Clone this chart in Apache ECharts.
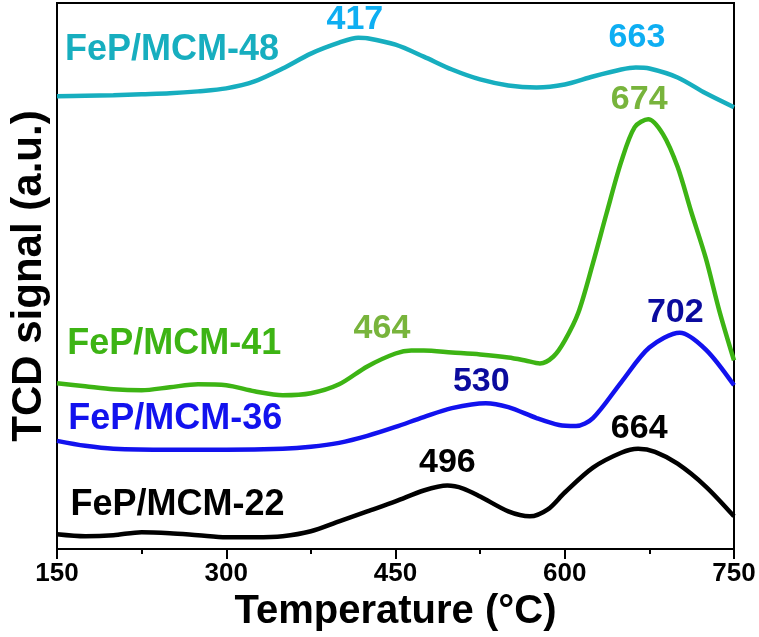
<!DOCTYPE html>
<html>
<head>
<meta charset="utf-8">
<script src="https://cdn.jsdelivr.net/npm/echarts@6/dist/echarts.min.js"></script>
<style>html,body{margin:0;padding:0;background:#fff}#c{width:759px;height:637px}</style>
</head>
<body>
<div id="c"></div>
<script>
// ---- data (x: temperature °C, y: TCD signal, arbitrary units with vertical offsets) ----
const xTicks = [150, 300, 450, 600, 750];

const mcm48T = [150, 175, 200, 225, 250, 275, 300, 325, 350, 375, 400, 417, 425, 450, 475, 500, 525, 550, 575, 600, 625, 650, 663, 675, 700, 725, 750];
const mcm48S = [456, 456.5, 457, 458, 459, 461, 464, 471, 484, 499, 510, 515, 514.5, 508, 496, 483, 473, 467, 465, 468, 476, 483, 485, 484, 475, 459, 445];

const mcm41T = [150, 175, 200, 225, 250, 275, 300, 325, 350, 375, 400, 425, 450, 464, 475, 500, 525, 550, 565, 578, 590, 600, 612, 625, 637, 650, 662, 674, 687, 700, 712, 725, 737, 750];
const mcm41S = [167, 164, 161, 160, 163, 166, 165, 159, 155, 157, 166, 184, 197, 200, 200, 198, 196, 193, 190, 187, 194, 210, 238, 288, 338, 390, 425, 433, 418, 385, 340, 293, 240, 190];

const mcm36T = [150, 175, 200, 250, 300, 350, 375, 400, 425, 450, 475, 500, 530, 550, 575, 595, 610, 625, 650, 675, 702, 725, 750];
const mcm36S = [109, 104, 101, 100, 100, 101, 103, 107, 114, 123, 133, 142, 147, 143, 132, 125, 124, 132, 168, 203, 218, 201, 165];

const mcm22T = [150, 175, 200, 225, 250, 275, 300, 325, 350, 375, 400, 425, 450, 475, 496, 510, 525, 550, 569, 585, 600, 625, 650, 665, 680, 700, 725, 750];
const mcm22S = [15, 13, 14, 17, 16, 14, 12, 12, 13, 18, 28, 38, 48, 59, 64, 61, 53, 38, 33, 40, 57, 82, 97, 101, 98, 86, 63, 33];

const seriesNames = ['FeP/MCM-48', 'FeP/MCM-41', 'FeP/MCM-36', 'FeP/MCM-22'];
const peaks48 = [417, 663];
const peaks41 = [464, 674];
const peaks36 = [530, 702];
const peaks22 = [496, 664];

// ---- build ----
const pairs = (t, s) => t.map((v, i) => [v, s[i]]);
const FONT = '"Liberation Sans", Arial, Helvetica, sans-serif';

// annotation anchors (data space): [temperature, signal]
function peakLabel(text, x, y, color) {
  return { name: String(text), coord: [x, y],
    label: { show: true, formatter: '{b}', color: color, fontSize: 34, fontWeight: 'bold', fontFamily: FONT,
      position: 'inside', align: 'center', verticalAlign: 'middle' } };
}
function nameLabel(text, x, y, color) {
  return { name: text, coord: [x, y],
    label: { show: true, formatter: '{b}', color: color, fontSize: 36, fontWeight: 'bold', fontFamily: FONT,
      position: 'inside', align: 'left', verticalAlign: 'middle' } };
}
function mkSeries(name, t, s, color, marks) {
  return {
    name: name, type: 'line', data: pairs(t, s), smooth: 0.3, showSymbol: false, symbol: 'none',
    lineStyle: { color: color, width: 4.5 }, z: 3,
    markPoint: { symbol: 'circle', symbolSize: 0, itemStyle: { color: 'transparent' }, data: marks, silent: true, animation: false }
  };
}

const option = {
  animation: false,
  backgroundColor: '#fff',
  grid: { left: 57, right: 25, top: 3, bottom: 84, show: true, borderColor: '#000', borderWidth: 2, backgroundColor: 'transparent' },
  xAxis: {
    type: 'value', min: 150, max: 750, interval: 150,
    axisLine: { show: true, onZero: false, lineStyle: { color: '#000', width: 2 } },
    axisTick: { show: true, length: 10, lineStyle: { color: '#000', width: 2 } },
    minorTick: { show: true, splitNumber: 2, length: 5, lineStyle: { color: '#000', width: 2 } },
    splitLine: { show: false },
    axisLabel: { color: '#000', fontSize: 26, fontWeight: 'bold', fontFamily: FONT, margin: 12,
      formatter: v => xTicks.includes(v) ? String(v) : '' },
    name: 'Temperature (\u00B0C)', nameLocation: 'middle', nameGap: 37,
    nameTextStyle: { color: '#000', fontSize: 40, fontWeight: 'bold', fontFamily: FONT }
  },
  yAxis: {
    type: 'value', min: 0, max: 550,
    axisLine: { show: true, lineStyle: { color: '#000', width: 2 } },
    axisTick: { show: false }, axisLabel: { show: false }, splitLine: { show: false },
    name: 'TCD signal (a.u.)', nameLocation: 'middle', nameGap: 7, nameRotate: 90,
    nameTextStyle: { color: '#000', fontSize: 42, fontWeight: 'bold', fontFamily: FONT }
  },
  series: [
    mkSeries(seriesNames[0], mcm48T, mcm48S, '#17AEBF', [
      nameLabel(seriesNames[0], 157, 503, '#17AEBF'),
      peakLabel(peaks48[0], 414, 533, '#0EAEF2'),
      peakLabel(peaks48[1], 664, 515, '#0EAEF2')
    ]),
    mkSeries(seriesNames[1], mcm41T, mcm41S, '#3DB414', [
      nameLabel(seriesNames[1], 159, 206, '#3DB414'),
      peakLabel(peaks41[0], 438, 222, '#78B43C'),
      peakLabel(peaks41[1], 666, 453, '#78B43C')
    ]),
    mkSeries(seriesNames[2], mcm36T, mcm36S, '#1212EE', [
      nameLabel(seriesNames[2], 160, 131, '#1212EE'),
      peakLabel(peaks36[0], 526, 169, '#0B0B9E'),
      peakLabel(peaks36[1], 698, 238, '#0B0B9E')
    ]),
    mkSeries(seriesNames[3], mcm22T, mcm22S, '#000000', [
      nameLabel(seriesNames[3], 162, 44, '#000000'),
      peakLabel(peaks22[0], 496, 87, '#000000'),
      peakLabel(peaks22[1], 666, 121, '#000000')
    ])
  ]
};

const chart = echarts.init(document.getElementById('c'), null, { renderer: 'canvas' });
chart.setOption(option);
</script>
</body>
</html>
